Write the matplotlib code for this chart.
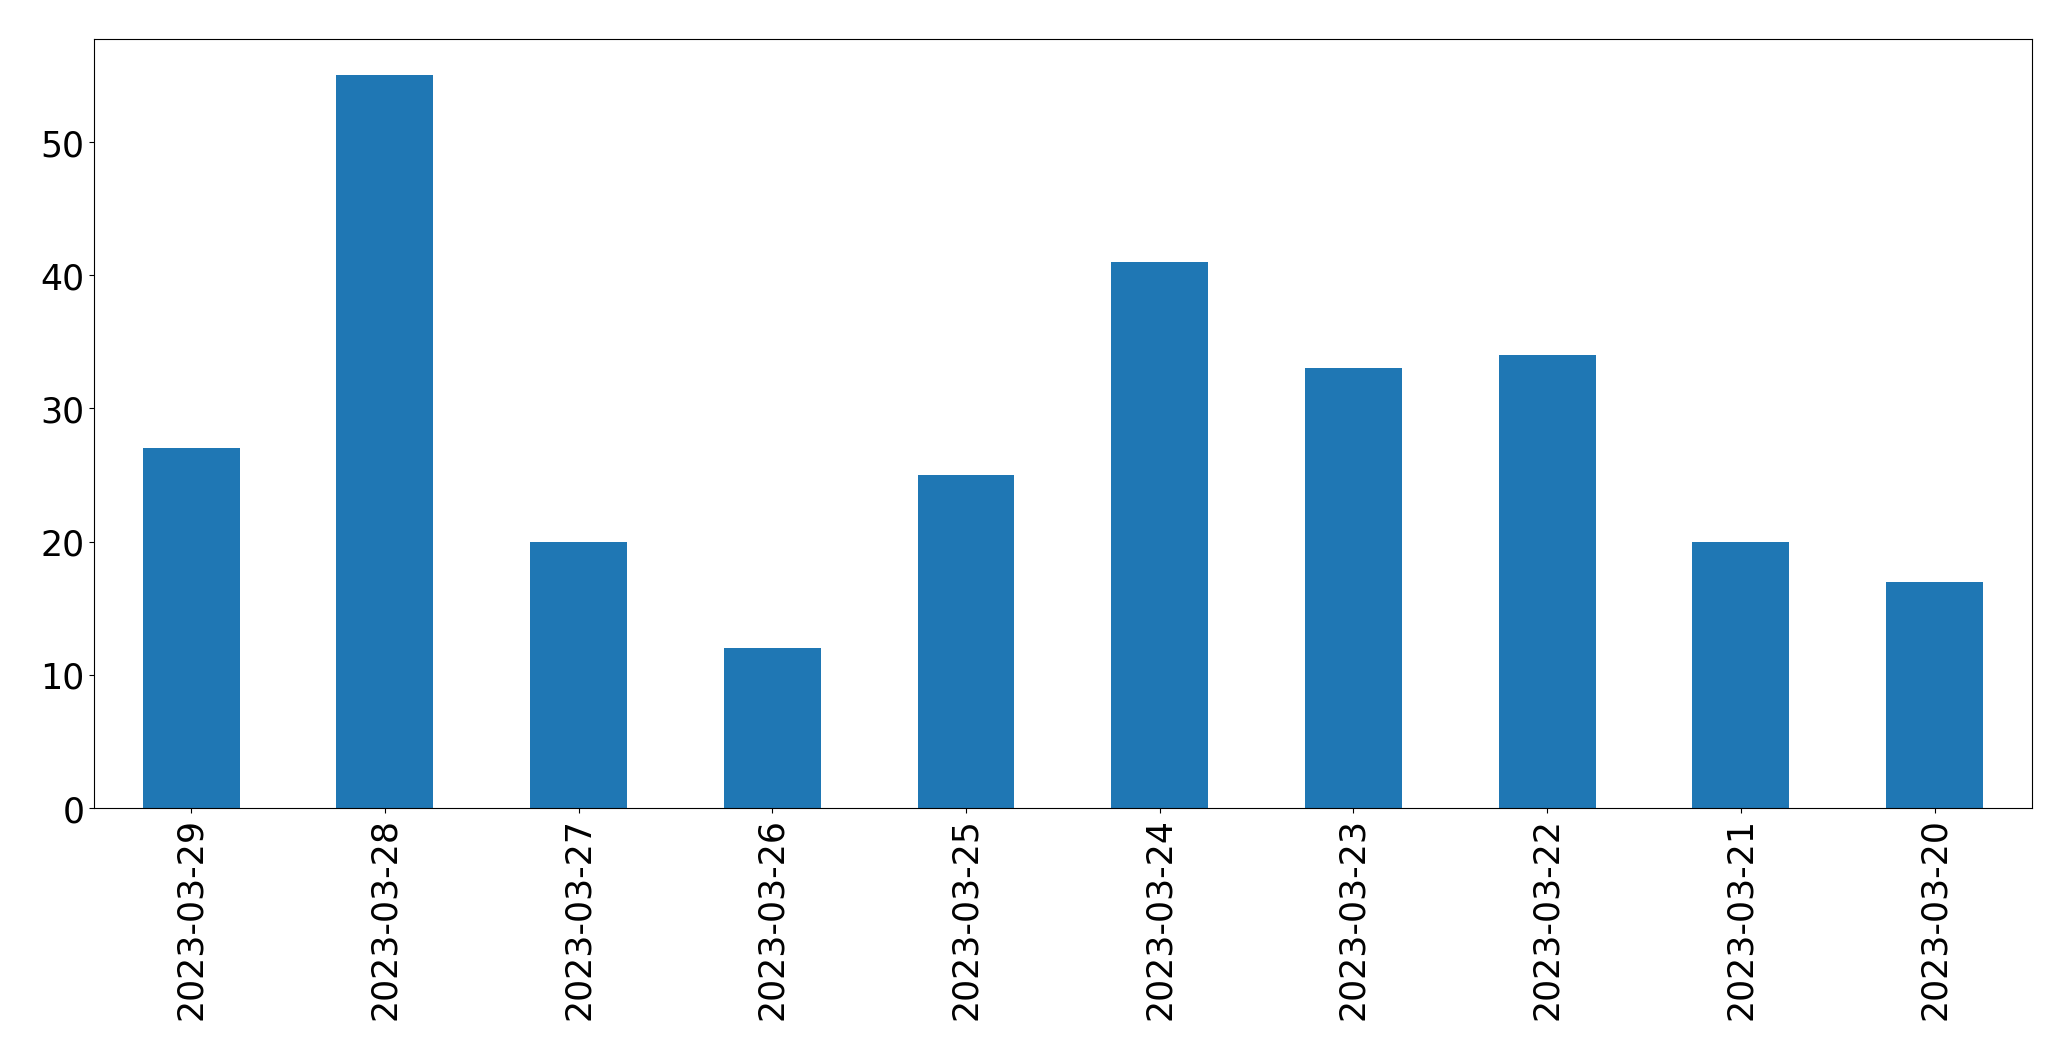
import matplotlib
matplotlib.use("Agg")
import matplotlib.pyplot as plt
import numpy as np

dates = ['2023-03-29', '2023-03-28', '2023-03-27', '2023-03-26', '2023-03-25',
         '2023-03-24', '2023-03-23', '2023-03-22', '2023-03-21', '2023-03-20']
counts = [27, 55, 20, 12, 25, 41, 33, 34, 20, 17]

fig = plt.figure(figsize=(20.71, 10.605), dpi=100)
ax = fig.add_axes([94.3 / 2071, 1 - 809 / 1061, (2031.5 - 94.3) / 2071, (809 - 39.3) / 1061])

x = np.arange(len(dates))
ax.bar(x, counts, width=0.5, color='#1f77b4')
ax.set_xlim(-0.5, len(dates) - 0.5)
ax.set_ylim(0, max(counts) * 1.05)
ax.set_xticks(x)
ax.set_xticklabels(dates, rotation=90)
ax.tick_params(labelsize=25)

fig.savefig('out.png', dpi=100)
